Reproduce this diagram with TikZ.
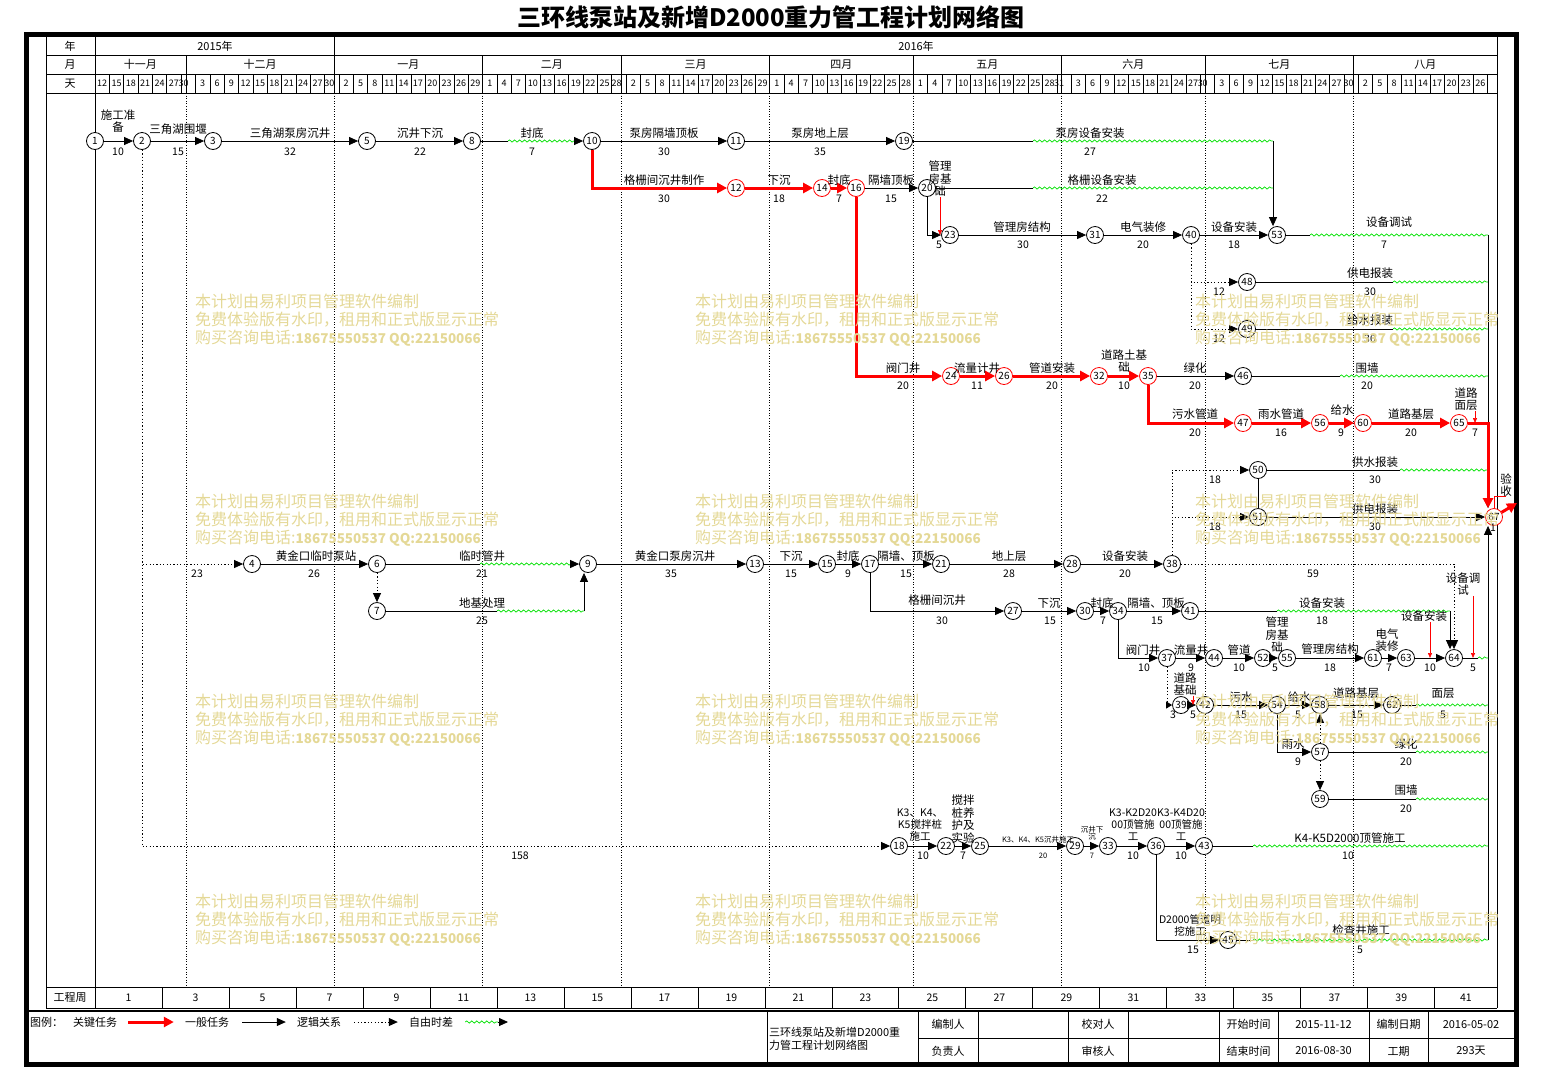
\documentclass[tikz,border=0pt]{standalone}
\usepackage{fontspec}
\setmainfont{Noto Sans CJK SC}
\usetikzlibrary{arrows.meta,decorations.pathmorphing}
\definecolor{fltgreen}{RGB}{0,225,0}
\definecolor{wmark}{RGB}{228,216,150}
\newcommand{\dayx}{4.785}
\tikzset{
  ev/.style={circle,draw,line width=.8pt,inner sep=0pt,minimum size=17pt,fill=white,font=\fontsize{10}{10}\selectfont},
  evc/.style={ev,draw=red},
  nm/.style={inner sep=0pt,align=center,font=\fontsize{11.5}{12.5}\selectfont},
  du/.style={inner sep=0pt,font=\fontsize{10.5}{11}\selectfont},
  tiny/.style={inner sep=0pt,align=center,font=\fontsize{7.5}{7.5}\selectfont},
  hd/.style={inner sep=0pt,font=\fontsize{11}{12}\selectfont},
  dn/.style={inner sep=0pt,font=\fontsize{9}{9}\selectfont},
  seg/.style={line width=.8pt},
  job/.style={line width=.8pt,-{Triangle[length=9pt,width=8pt]}},
  crit/.style={red,line width=3pt,-{Triangle[length=10pt,width=10pt]}},
  logic/.style={line width=.8pt,dash pattern=on 1.2pt off 2.2pt,-{Triangle[length=9pt,width=8pt]}},
  flt/.style={fltgreen,line width=.7pt,decorate,decoration={snake,amplitude=1.1pt,segment length=5pt}},
  ptr/.style={red,line width=.6pt,-{Triangle[length=5pt,width=4pt]}},
  mline/.style={line width=.7pt,dash pattern=on 1pt off 1.6pt},
  wm/.style={anchor=west,inner sep=0pt,align=left,text=wmark,font=\fontsize{16}{18}\selectfont}
}
\begin{document}
\begin{tikzpicture}[x=1pt,y=-1pt]
\useasboundingbox (0,0) rectangle (1541,1069);
\node[font=\fontsize{24}{24}\selectfont\bfseries] (title) at (771,17) {三环线泵站及新增D2000重力管工程计划网络图};
% frame
\draw[line width=5pt] (26.5,34.5) rectangle (1516,1064.5);
\draw[seg] (46,37) -- (46,1008) (1497,37) -- (1497,1008) (95,37) -- (95,1008);
\draw[seg] (46,55) -- (1497,55) (46,74) -- (1497,74) (46,93) -- (1497,93);
\draw[seg] (46,987) -- (1497,987) (46,1008) -- (1497,1008);
\draw[line width=1.2pt] (26,1011) -- (1516,1011);
% time scale
\draw[seg] ({95+\dayx*50},37) -- ({95+\dayx*50},55);
\node[hd] (yr) at (70,46) {年};
\node[hd] (mo) at (70,64.5) {月};
\node[hd] (dy) at (70,83.5) {天};
\node[hd] (y15) at (215,46) {2015年};
\node[hd] (y16) at (916,46) {2016年};
\foreach \d in {19,50,81,110,141,171,202,232,263}{
  \draw[seg] ({95+\dayx*\d},55) -- ({95+\dayx*\d},93);
  \draw[mline] ({95+\dayx*\d},93) -- ({95+\dayx*\d},987);
}
\foreach \a/\b/\t [count=\i] in {0/19/十一月,19/50/十二月,50/81/一月,81/110/二月,110/141/三月,141/171/四月,171/202/五月,202/232/六月,232/263/七月,263/293/八月}
  \node[hd] (m\i) at ({95+\dayx*(\a+\b)/2},64.5) {\t};
\foreach \k in {1,...,97}
  \draw[line width=.6pt] ({95+\dayx*3*\k},74) -- ++(0,19);
\foreach \t [count=\k from 0] in {12,15,18,21,24,27,30,3,6,9,12,15,18,21,24,27,30,2,5,8,11,14,17,20,23,26,29,1,4,7,10,13,16,19,22,25,28,2,5,8,11,14,17,20,23,26,29,1,4,7,10,13,16,19,22,25,28,1,4,7,10,13,16,19,22,25,28,31,3,6,9,12,15,18,21,24,27,30,3,6,9,12,15,18,21,24,27,30,2,5,8,11,14,17,20,23,26}{
  \pgfmathsetmacro\ce{(3*\k+min(3*\k+3,19+999*(19<=3*\k),50+999*(50<=3*\k),81+999*(81<=3*\k),110+999*(110<=3*\k),141+999*(141<=3*\k),171+999*(171<=3*\k),202+999*(202<=3*\k),232+999*(232<=3*\k),263+999*(263<=3*\k)))/2}
  \node[dn] (d\k) at ({95+\dayx*\ce},83.5) {\t};
}
% week axis
\node[hd] (gcz) at (70,997.5) {工程周};
\foreach \k in {1,...,20}
  \draw[seg] ({95+66.99*\k},987) -- ++(0,21);
\foreach \k in {0,...,20}{
  \pgfmathtruncatemacro\wk{2*\k+1}
  \pgfmathsetmacro\wc{(95+66.99*\k+min(95+66.99*(\k+1),1497))/2}
  \node[du] (w\k) at (\wc,997.5) {\wk};
}
% events
\node[ev] (n1) at (95,141) {1};
\node[ev] (n2) at (142,141) {2};
\node[ev] (n3) at (213,141) {3};
\node[ev] (n5) at (367,141) {5};
\node[ev] (n8) at (472,141) {8};
\node[ev] (n10) at (592,141) {10};
\node[ev] (n11) at (736,141) {11};
\node[ev] (n19) at (904,141) {19};
\node[evc] (n12) at (736,188) {12};
\node[evc] (n14) at (822,188) {14};
\node[evc] (n16) at (856,188) {16};
\node[ev] (n20) at (927,188) {20};
\node[ev] (n23) at (950,235) {23};
\node[ev] (n31) at (1095,235) {31};
\node[ev] (n40) at (1191,235) {40};
\node[ev] (n53) at (1277,235) {53};
\node[ev] (n48) at (1247,282) {48};
\node[ev] (n49) at (1247,329) {49};
\node[evc] (n24) at (951,376) {24};
\node[evc] (n26) at (1004,376) {26};
\node[evc] (n32) at (1099,376) {32};
\node[evc] (n35) at (1148,376) {35};
\node[ev] (n46) at (1243,376) {46};
\node[evc] (n47) at (1243,423) {47};
\node[evc] (n56) at (1320,423) {56};
\node[evc] (n60) at (1363,423) {60};
\node[evc] (n65) at (1459,423) {65};
\node[ev] (n50) at (1258,470) {50};
\node[ev] (n51) at (1258,517) {51};
\node[evc] (n67) at (1494,517) {67};
\node[ev] (n4) at (252,564) {4};
\node[ev] (n6) at (377,564) {6};
\node[ev] (n9) at (588,564) {9};
\node[ev] (n13) at (755,564) {13};
\node[ev] (n15) at (827,564) {15};
\node[ev] (n17) at (870,564) {17};
\node[ev] (n21) at (941,564) {21};
\node[ev] (n28) at (1072,564) {28};
\node[ev] (n38) at (1172,564) {38};
\node[ev] (n7) at (377,611) {7};
\node[ev] (n27) at (1013,611) {27};
\node[ev] (n30) at (1085,611) {30};
\node[ev] (n34) at (1118,611) {34};
\node[ev] (n41) at (1190,611) {41};
\node[ev] (n37) at (1167,658) {37};
\node[ev] (n44) at (1214,658) {44};
\node[ev] (n52) at (1263,658) {52};
\node[ev] (n55) at (1287,658) {55};
\node[ev] (n61) at (1373,658) {61};
\node[ev] (n63) at (1406,658) {63};
\node[ev] (n64) at (1454,658) {64};
\node[ev] (n39) at (1181,705) {39};
\node[ev] (n42) at (1205,705) {42};
\node[ev] (n54) at (1277,705) {54};
\node[ev] (n58) at (1320,705) {58};
\node[ev] (n62) at (1392,705) {62};
\node[ev] (n57) at (1320,752) {57};
\node[ev] (n59) at (1320,799) {59};
\node[ev] (n18) at (899,846) {18};
\node[ev] (n22) at (946,846) {22};
\node[ev] (n25) at (980,846) {25};
\node[ev] (n29) at (1075,846) {29};
\node[ev] (n33) at (1108,846) {33};
\node[ev] (n36) at (1156,846) {36};
\node[ev] (n43) at (1204,846) {43};
\node[ev] (n45) at (1228,940) {45};
% free ends
\coordinate (cR) at (1488,517);
\coordinate (a8) at (508,141); \coordinate (b8) at (574,141);
\coordinate (a19) at (1033,141); \coordinate (b19) at (1273,141);
\coordinate (a20) at (1033,188); \coordinate (b20) at (1273,188);
\coordinate (a53) at (1310,235);
\coordinate (a48) at (1393,282);
\coordinate (a49) at (1393,329);
\coordinate (a46) at (1340,376);
\coordinate (a50) at (1400,470);
\coordinate (a6) at (480,564); \coordinate (b6) at (571,564);
\coordinate (a7) at (497,611); \coordinate (b7) at (584,611);
\coordinate (a41) at (1277,611); \coordinate (b41) at (1450,611);
\coordinate (a64) at (1478,658);
\coordinate (a62) at (1416,705);
\coordinate (a57) at (1416,752);
\coordinate (a59) at (1416,799);
\coordinate (a43) at (1253,846);
\coordinate (a45) at (1253,940);
\coordinate (fin) at (1517,503);
% activities, top part
\draw[job] (n1) -- (n2);
\draw[job] (n2) -- (n3);
\draw[job] (n3) -- (n5);
\draw[job] (n5) -- (n8);
\draw[seg] (n8) -- (a8); \draw[flt] (a8) -- (b8); \draw[job] (b8) -- (n10);
\draw[job] (n10) -- (n11);
\draw[job] (n11) -- (n19);
\draw[seg] (n19) -- (a19); \draw[flt] (a19) -- (b19); \draw[job] (b19) -- (b19 |- n53.north);
\draw[job] (n16) -- (n20);
\draw[seg] (n20) -- (a20); \draw[flt] (a20) -- (b20);
\draw[job] (n20) |- (n23);
\draw[job] (n23) -- (n31);
\draw[job] (n31) -- (n40);
\draw[job] (n40) -- (n53);
\draw[seg] (n53) -- (a53); \draw[flt] (a53) -- (cR |- n53);
\draw[logic] (n40) |- (n48);
\draw[logic] (n40) |- (n49);
\draw[seg] (n48) -- (a48); \draw[flt] (a48) -- (cR |- n48);
\draw[seg] (n49) -- (a49); \draw[flt] (a49) -- (cR |- n49);
\draw[job] (n35) -- (n46);
\draw[seg] (n46) -- (a46); \draw[flt] (a46) -- (cR |- n46);
\draw[job] (cR |- n53) -- (cR |- n67.north);
\draw[job] (cR |- n45) -- (cR |- n67.south);
\draw[seg] (n50) -- (a50); \draw[flt] (a50) -- (cR |- n50);
\draw[seg] (n50) -- (n51);
\draw[job] (n51) -- (n67);
% critical path
\draw[crit] (n10) |- (n12);
\draw[crit] (n12) -- (n14);
\draw[crit] (n14) -- (n16);
\draw[crit] (n16) |- (n24);
\draw[crit] (n24) -- (n26);
\draw[crit] (n26) -- (n32);
\draw[crit] (n32) -- (n35);
\draw[crit] (n35) |- (n47);
\draw[crit] (n47) -- (n56);
\draw[crit] (n56) -- (n60);
\draw[crit] (n60) -- (n65);
\draw[crit] (n65) -| (cR |- n67.north);
\draw[crit] (n67) -- (fin);
% middle part
\draw[logic] (n2) |- (n4);
\draw[logic] (n2) |- (n18);
\draw[job] (n4) -- (n6);
\draw[seg] (n6) -- (a6); \draw[flt] (a6) -- (b6); \draw[job] (b6) -- (n9);
\draw[logic] (n6) -- (n7);
\draw[seg] (n7) -- (a7); \draw[flt] (a7) -- (b7); \draw[job] (b7) -- (b7 |- n9.south);
\draw[job] (n9) -- (n13);
\draw[job] (n13) -- (n15);
\draw[job] (n15) -- (n17);
\draw[job] (n17) -- (n21);
\draw[job] (n21) -- (n28);
\draw[job] (n28) -- (n38);
\draw[logic] (n38) |- (n50);
\draw[logic] (n38) |- (n51);
\draw[logic] (n38) -| (n64);
\draw[job] (n17) |- (n27);
\draw[job] (n27) -- (n30);
\draw[job] (n30) -- (n34);
\draw[job] (n34) -- (n41);
\draw[seg] (n41) -- (a41); \draw[flt] (a41) -- (b41); \draw[job] (b41) -- (b41 |- n64.north);
\draw[job] (n34) |- (n37);
\draw[job] (n37) -- (n44);
\draw[job] (n44) -- (n52);
\draw[job] (n52) -- (n55);
\draw[job] (n55) -- (n61);
\draw[job] (n61) -- (n63);
\draw[job] (n63) -- (n64);
\draw[seg] (n64) -- (a64); \draw[flt] (a64) -- (cR |- n64);
\draw[logic,-{Triangle[length=6pt,width=7pt]}] (n37) |- (n39);
\draw[job] (n39) -- (n42);
\draw[job] (n42) -- (n54);
\draw[job] (n54) -- (n58);
\draw[job] (n58) -- (n62);
\draw[seg] (n62) -- (a62); \draw[flt] (a62) -- (cR |- n62);
\draw[job] (n54) |- (n57);
\draw[logic] (n57) -- (n58);
\draw[logic] (n57) -- (n59);
\draw[seg] (n57) -- (a57); \draw[flt] (a57) -- (cR |- n57);
\draw[seg] (n59) -- (a59); \draw[flt] (a59) -- (cR |- n59);
% bottom part
\draw[job] (n18) -- (n22);
\draw[job] (n22) -- (n25);
\draw[job] (n25) -- (n29);
\draw[job] (n29) -- (n33);
\draw[job] (n33) -- (n36);
\draw[job] (n36) -- (n43);
\draw[seg] (n43) -- (a43); \draw[flt] (a43) -- (cR |- n43);
\draw[job] (n36) |- (n45);
\draw[seg] (n45) -- (a45); \draw[flt] (a45) -- (cR |- n45);
% task names and durations
\node[nm] (t1x2) at (118,121) {施工准\\备}; \node[du] (u1x2) at (118,152) {10};
\node[nm] (t2x3) at (178,129) {三角湖围堰}; \node[du] (u2x3) at (178,152) {15};
\node[nm] (t3x5) at (290,133) {三角湖泵房沉井}; \node[du] (u3x5) at (290,152) {32};
\node[nm] (t5x8) at (420,133) {沉井下沉}; \node[du] (u5x8) at (420,152) {22};
\node[nm] (t8x10) at (532,133) {封底}; \node[du] (u8x10) at (532,152) {7};
\node[nm] (t10x11) at (664,133) {泵房隔墙顶板}; \node[du] (u10x11) at (664,152) {30};
\node[nm] (t11x19) at (820,133) {泵房地上层}; \node[du] (u11x19) at (820,152) {35};
\node[nm] (t19x53) at (1090,133) {泵房设备安装}; \node[du] (u19x53) at (1090,152) {27};
\node[nm] (t10x12) at (664,180) {格栅间沉井制作}; \node[du] (u10x12) at (664,199) {30};
\node[nm] (t12x14) at (779,180) {下沉}; \node[du] (u12x14) at (779,199) {18};
\node[nm] (t14x16) at (839,180) {封底}; \node[du] (u14x16) at (839,199) {7};
\node[nm] (t16x20) at (891,180) {隔墙顶板}; \node[du] (u16x20) at (891,199) {15};
\node[nm] (t20x23) at (940,179) {管理\\房基\\础}; \node[du] (u20x23) at (939,245) {5};
\node[nm] (t20x53) at (1102,180) {格栅设备安装}; \node[du] (u20x53) at (1102,199) {22};
\node[nm] (t23x31) at (1022,227) {管理房结构}; \node[du] (u23x31) at (1023,245) {30};
\node[nm] (t31x40) at (1143,227) {电气装修}; \node[du] (u31x40) at (1143,245) {20};
\node[nm] (t40x53) at (1234,227) {设备安装}; \node[du] (u40x53) at (1234,245) {18};
\node[nm] (t53x67) at (1389,222) {设备调试}; \node[du] (u53x67) at (1384,245) {7};
\node[du] (u40x48) at (1219,292) {12};
\node[nm] (t48x67) at (1370,273) {供电报装}; \node[du] (u48x67) at (1370,292) {30};
\node[du] (u40x49) at (1219,339) {12};
\node[nm] (t49x67) at (1370,320) {给水报装}; \node[du] (u49x67) at (1370,339) {30};
\node[nm] (t16x24) at (903,368) {阀门井}; \node[du] (u16x24) at (903,386) {20};
\node[nm] (t24x26) at (977,368) {流量计井}; \node[du] (u24x26) at (977,386) {11};
\node[nm] (t26x32) at (1052,368) {管道安装}; \node[du] (u26x32) at (1052,386) {20};
\node[nm] (t32x35) at (1124,361) {道路土基\\础}; \node[du] (u32x35) at (1124,386) {10};
\node[nm] (t35x46) at (1195,368) {绿化}; \node[du] (u35x46) at (1195,386) {20};
\node[nm] (t46x67) at (1367,368) {围墙}; \node[du] (u46x67) at (1367,386) {20};
\node[nm] (t35x47) at (1195,414) {污水管道}; \node[du] (u35x47) at (1195,433) {20};
\node[nm] (t47x56) at (1281,414) {雨水管道}; \node[du] (u47x56) at (1281,433) {16};
\node[nm] (t56x60) at (1342,410) {给水}; \node[du] (u56x60) at (1341,433) {9};
\node[nm] (t60x65) at (1411,414) {道路基层}; \node[du] (u60x65) at (1411,433) {20};
\node[nm] (t65x67) at (1466,399) {道路\\面层}; \node[du] (u65x67) at (1475,433) {7};
\node[du] (u38x50) at (1215,480) {18};
\node[nm] (t50x67) at (1375,462) {供水报装}; \node[du] (u50x67) at (1375,480) {30};
\node[du] (u38x51) at (1215,527) {18};
\node[nm] (t51x67) at (1375,509) {供电报装}; \node[du] (u51x67) at (1375,527) {30};
\node[nm] (t67) at (1506,485) {验\\收}; \node[du] (u67) at (1493,528) {1};
\node[du] (u2x4) at (197,574) {23};
\node[nm] (t4x6) at (316,556) {黄金口临时泵站}; \node[du] (u4x6) at (314,574) {26};
\node[nm] (t6x9) at (482,556) {临时管井}; \node[du] (u6x9) at (482,574) {21};
\node[nm] (t7x9) at (482,603) {地基处理}; \node[du] (u7x9) at (482,621) {25};
\node[nm] (t9x13) at (675,556) {黄金口泵房沉井}; \node[du] (u9x13) at (671,574) {35};
\node[nm] (t13x15) at (791,556) {下沉}; \node[du] (u13x15) at (791,574) {15};
\node[nm] (t15x17) at (848,556) {封底}; \node[du] (u15x17) at (848,574) {9};
\node[nm] (t17x21) at (906,556) {隔墙、顶板}; \node[du] (u17x21) at (906,574) {15};
\node[nm] (t21x28) at (1009,556) {地上层}; \node[du] (u21x28) at (1009,574) {28};
\node[nm] (t28x38) at (1125,556) {设备安装}; \node[du] (u28x38) at (1125,574) {20};
\node[du] (u38x64) at (1313,574) {59};
\node[nm] (t17x27) at (937,600) {格栅间沉井}; \node[du] (u17x27) at (942,621) {30};
\node[nm] (t27x30) at (1049,603) {下沉}; \node[du] (u27x30) at (1050,621) {15};
\node[nm] (t30x34) at (1102,603) {封底}; \node[du] (u30x34) at (1103,621) {7};
\node[nm] (t34x41) at (1156,603) {隔墙、顶板}; \node[du] (u34x41) at (1157,621) {15};
\node[nm] (t41x64) at (1322,603) {设备安装}; \node[du] (u41x64) at (1322,621) {18};
\node[nm] (t34x37) at (1143,650) {阀门井}; \node[du] (u34x37) at (1144,668) {10};
\node[nm] (t37x44) at (1191,650) {流量井}; \node[du] (u37x44) at (1191,668) {9};
\node[nm] (t44x52) at (1239,650) {管道}; \node[du] (u44x52) at (1239,668) {10};
\node[nm] (t52x55) at (1277,635) {管理\\房基\\础}; \node[du] (u52x55) at (1275,668) {5};
\node[nm] (t55x61) at (1330,649) {管理房结构}; \node[du] (u55x61) at (1330,668) {18};
\node[nm] (t61x63) at (1387,640) {电气\\装修}; \node[du] (u61x63) at (1389,668) {7};
\node[nm] (t63x64) at (1424,616) {设备安装}; \node[du] (u63x64) at (1430,668) {10};
\node[nm] (t64x67) at (1463,584) {设备调\\试}; \node[du] (u64x67) at (1473,668) {5};
\node[nm] (t39x42) at (1185,684) {道路\\基础}; \node[du] (u37x39) at (1173,715) {3}; \node[du] (u39x42) at (1193,715) {5};
\node[nm] (t42x54) at (1241,697) {污水}; \node[du] (u42x54) at (1241,715) {15};
\node[nm] (t54x58) at (1299,697) {给水}; \node[du] (u54x58) at (1298,715) {5};
\node[nm] (t58x62) at (1356,693) {道路基层}; \node[du] (u58x62) at (1357,715) {15};
\node[nm] (t62x67) at (1443,693) {面层}; \node[du] (u62x67) at (1443,715) {5};
\node[nm] (t54x57) at (1293,744) {雨水}; \node[du] (u54x57) at (1298,762) {9};
\node[nm] (t57x67) at (1406,744) {绿化}; \node[du] (u57x67) at (1406,762) {20};
\node[nm] (t59x67) at (1406,790) {围墙}; \node[du] (u59x67) at (1406,809) {20};
\node[du] (u2x18) at (520,856) {158};
\node[nm,font=\fontsize{10.5}{12}\selectfont] (t18x22) at (920,825) {K3、K4、\\K5搅拌桩\\施工}; \node[du] (u18x22) at (923,856) {10};
\node[nm] (t22x25) at (963,819) {搅拌\\桩养\\护及\\实验}; \node[du] (u22x25) at (963,856) {7};
\node[tiny] (t25x29) at (1038,840) {K3、K4、K5沉井施工}; \node[tiny] (u25x29) at (1043,856) {20};
\node[tiny] (t29x33) at (1092,833) {沉井下\\沉}; \node[tiny] (u29x33) at (1092,856) {7};
\node[nm,font=\fontsize{10.5}{12}\selectfont] (t33x36) at (1133,825) {K3-K2D20\\00顶管施\\工}; \node[du] (u33x36) at (1133,856) {10};
\node[nm,font=\fontsize{10.5}{12}\selectfont] (t36x43) at (1181,825) {K3-K4D20\\00顶管施\\工}; \node[du] (u36x43) at (1181,856) {10};
\node[nm] (t43x67) at (1350,838) {K4-K5D2000顶管施工}; \node[du] (u43x67) at (1348,856) {10};
\node[nm,font=\fontsize{10.5}{12}\selectfont] (t36x45) at (1190,925) {D2000管道明\\挖施工}; \node[du] (u36x45) at (1193,950) {15};
\node[nm] (t45x67) at (1361,930) {检查井施工}; \node[du] (u45x67) at (1360,950) {5};
% label pointers
\draw[ptr] (t20x23.south) -- (t20x23.south |- n23.west);
\draw[ptr] (u65x67 |- t65x67.south) -- (u65x67 |- n65.east);
\draw[ptr] (u63x64 |- t63x64.south) -- (u63x64 |- n64.west);
\draw[ptr] (u64x67 |- t64x67.south) -- (u64x67 |- n64.east);
\draw[ptr] (u39x42 |- t39x42.south) -- (u39x42 |- n42.west);
\draw[red,line width=.6pt] (n67.north) |- (t67.south);
% legend
\node[hd,anchor=west] (lg0) at (30,1022) {图例：};
\node[hd] (lg1) at (95,1022) {关键任务};
\node[hd] (lg2) at (207,1022) {一般任务};
\node[hd] (lg3) at (319,1022) {逻辑关系};
\node[hd] (lg4) at (431,1022) {自由时差};
\draw[crit] ([xshift=11pt]lg1.east) -- ([xshift=-11pt]lg2.west);
\draw[job] ([xshift=13pt]lg2.east) -- ([xshift=-11pt]lg3.west);
\draw[logic] ([xshift=13pt]lg3.east) -- ([xshift=-11pt]lg4.west);
\coordinate (lgf) at (498,1022);
\draw[flt] ([xshift=12pt]lg4.east) -- (lgf); \draw[job] (lgf) -- ++(10,0);
% title block
\draw[seg] (767,1011) -- (767,1064) (918,1038) -- (1516,1038);
\foreach \x in {918,978,1068,1128,1219,1278,1369,1428}
  \draw[seg] (\x,1011) -- (\x,1064);
\node[hd,anchor=west,align=left,font=\fontsize{11}{13}\selectfont] (tbt) at (769,1038.5) {三环线泵站及新增D2000重\\力管工程计划网络图};
\node[hd] (tb1) at (948,1024.5) {编制人};
\node[hd] (tb2) at (1098,1024.5) {校对人};
\node[hd] (tb3) at (1248.5,1024.5) {开始时间};
\node[hd] (tb4) at (1323.5,1024.5) {2015-11-12};
\node[hd] (tb5) at (1398.5,1024.5) {编制日期};
\node[hd] (tb6) at (1471,1024.5) {2016-05-02};
\node[hd] (tb7) at (948,1051) {负责人};
\node[hd] (tb8) at (1098,1051) {审核人};
\node[hd] (tb9) at (1248.5,1051) {结束时间};
\node[hd] (tb10) at (1323.5,1051) {2016-08-30};
\node[hd] (tb11) at (1398.5,1051) {工期};
\node[hd] (tb12) at (1471,1051) {293天};
% watermark
\foreach \x in {195,695,1195}
  \foreach \y in {302,502,702,902}
    \node[wm] (wm\x\y) at (\x,\y+18) {本计划由易利项目管理软件编制\\免费体验版有水印，租用和正式版显示正常\\购买咨询电话:{\fontsize{13.5}{18}\selectfont\bfseries 18675550537 QQ:22150066}};
\end{tikzpicture}
\end{document}
